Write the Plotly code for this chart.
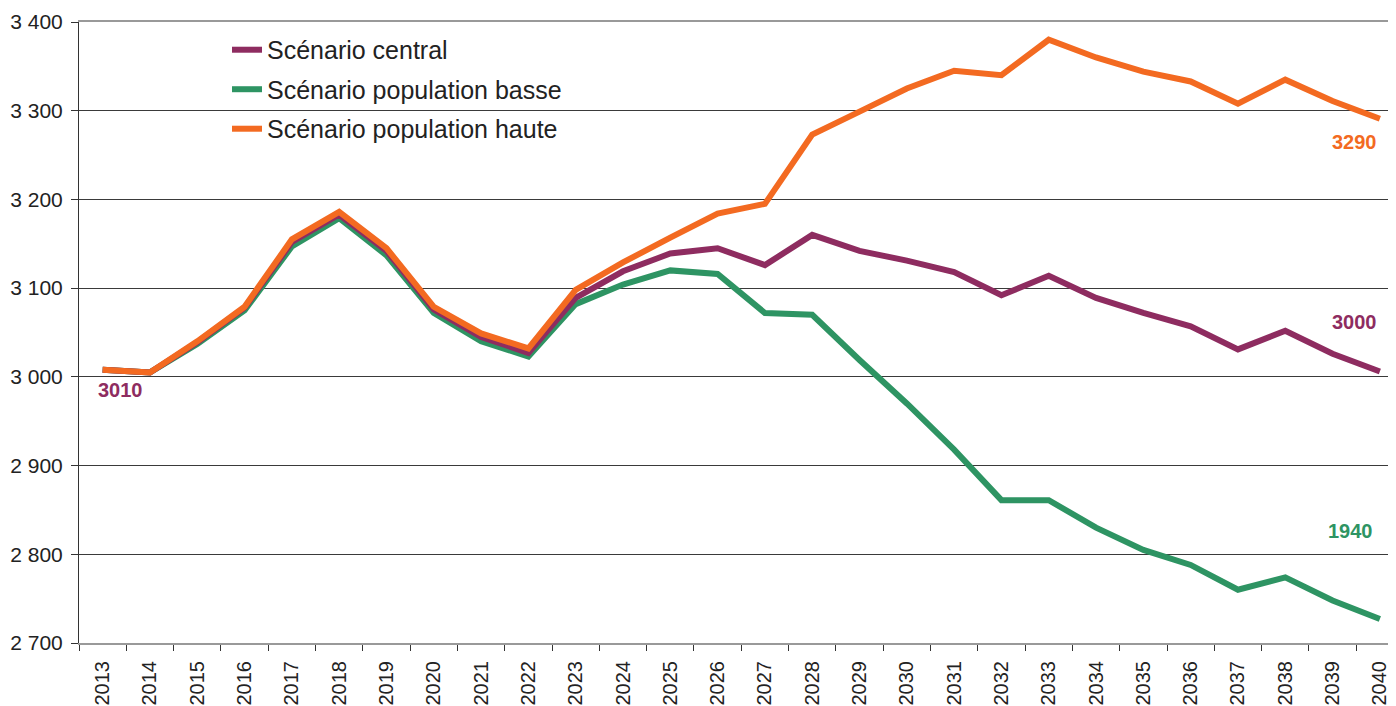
import plotly.graph_objects as go

years = [str(y) for y in range(2013, 2041)]

central = [3008, 3005, 3039, 3078, 3152, 3183, 3142, 3076, 3045, 3027,
           3089, 3119, 3139, 3145, 3126, 3160, 3142, 3131, 3118, 3092,
           3114, 3089, 3072, 3057, 3031, 3052, 3026, 3006]
basse = [3008, 3005, 3037, 3075, 3147, 3179, 3137, 3072, 3040, 3023,
         3082, 3104, 3120, 3116, 3072, 3070, 3019, 2970, 2918, 2861,
         2861, 2830, 2805, 2788, 2760, 2774, 2748, 2727]
haute = [3008, 3005, 3040, 3079, 3155, 3186, 3145, 3079, 3049, 3032,
         3098, 3129, 3157, 3184, 3195, 3273, 3299, 3325, 3345, 3340,
         3380, 3360, 3344, 3333, 3308, 3335, 3311, 3291]

names = ["Scénario central", "Scénario population basse", "Scénario population haute"]
colors = ["#8E2C60", "#2E9463", "#F36A21"]

y_ticks = [2700, 2800, 2900, 3000, 3100, 3200, 3300, 3400]
y_ticktext = ["2 700", "2 800", "2 900", "3 000", "3 100", "3 200", "3 300", "3 400"]

end_labels = ["3010", "3290", "3000", "1940"]
end_label_colors = ["#8E2C60", "#F36A21", "#8E2C60", "#2E9463"]
end_label_x = [0.38, 26.47, 26.47, 26.38]
end_label_y = [2985, 3265, 3062, 2826]

fig = go.Figure()
# drawing order: green, purple, orange on top
for series, idx in [(basse, 1), (central, 0), (haute, 2)]:
    fig.add_trace(go.Scatter(
        x=years, y=series, mode="lines", name=names[idx],
        line=dict(color=colors[idx], width=6),
        legendrank=idx + 1, legendgroup=names[idx],
        hoverinfo="x+y+name",
    ))

for t, c, x, y in zip(end_labels, end_label_colors, end_label_x, end_label_y):
    fig.add_annotation(x=x, y=y, xref="x", yref="y", text="<b>%s</b>" % t,
                       showarrow=False, font=dict(size=20, color=c,
                       family="Liberation Sans, Arial, sans-serif"))

# white box behind legend (covers gridlines)
fig.add_shape(type="rect", xref="paper", yref="y", x0=0.0355, x1=0.44,
              y0=3258, y1=3392, fillcolor="white", line=dict(width=0),
              layer="between")

fig.update_layout(
    width=1396, height=706,
    margin=dict(l=71, r=0, t=14, b=71),
    plot_bgcolor="white", paper_bgcolor="white",
    font=dict(family="Liberation Sans, Arial, sans-serif", size=20, color="#222222"),
    showlegend=True,
    legend=dict(x=0.1117, y=0.992, xanchor="left", yanchor="top",
                bgcolor="rgba(255,255,255,0)", borderwidth=0,
                font=dict(size=25, color="#222222"),
                traceorder="grouped", tracegroupgap=4),
    xaxis=dict(type="category", range=[-0.5, 27.51], tickson="boundaries",
               ticks="outside", ticklen=6, tickcolor="#333333", tickwidth=1,
               tickangle=-90, showgrid=False, automargin=False,
               ticklabelstandoff=8,
               showline=True, linecolor="#999999", linewidth=2,
               mirror=True, tickfont=dict(size=20)),
    yaxis=dict(range=[2700, 3400], tickvals=y_ticks, ticktext=y_ticktext,
               ticks="outside", ticklen=7, tickcolor="#333333", automargin=False,
               ticklabelstandoff=4,
               showgrid=True, gridcolor="#3a3a3a", gridwidth=1,
               zeroline=False, showline=True, linecolor="#333333", linewidth=1,
               tickfont=dict(size=21)),
)

fig.write_html("out.html")
